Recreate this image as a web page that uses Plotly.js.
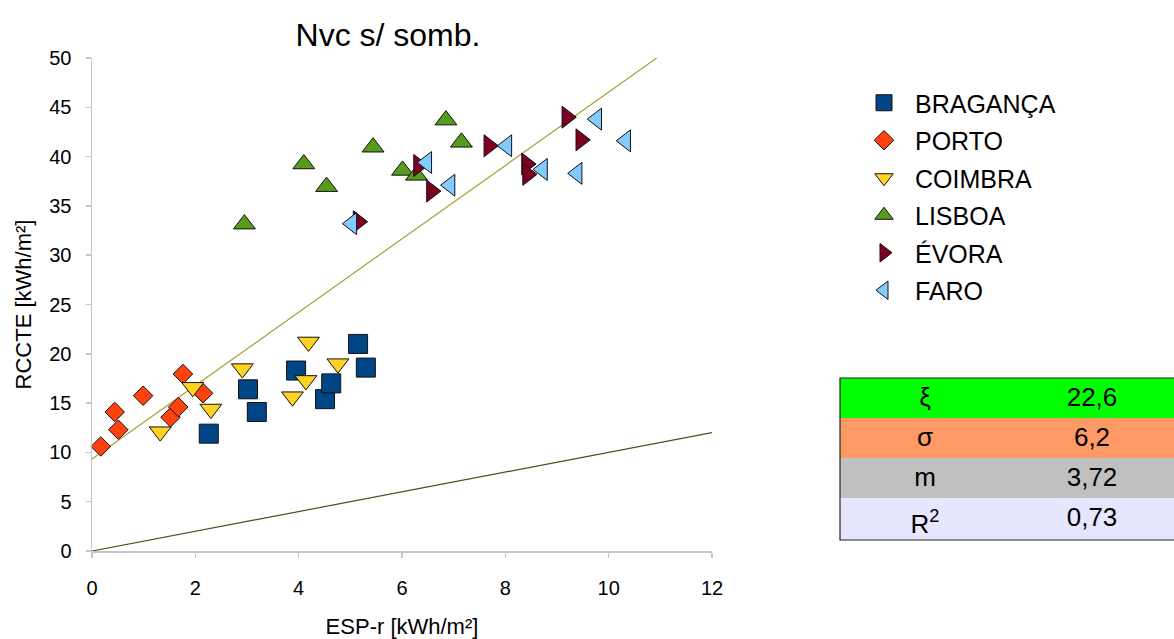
<!DOCTYPE html>
<html>
<head>
<meta charset="utf-8">
<script src="https://cdn.plot.ly/plotly-3.0.1.min.js"></script>
<style>html,body{margin:0;padding:0;background:#fff;}#chart{width:1174px;height:639px;}</style>
</head>
<body>
<div id="chart"></div>
<script>
// ---- data ----
const seriesNames = ["BRAGANÇA", "PORTO", "COIMBRA", "LISBOA", "ÉVORA", "FARO"];
const bragancaX = [2.26, 3.02, 3.19, 3.95, 4.51, 4.63, 5.15, 5.30];
const bragancaY = [11.9, 16.4, 14.1, 18.3, 15.4, 17.0, 21.0, 18.6];
const portoX = [0.17, 0.51, 0.44, 0.99, 1.52, 1.67, 1.76, 2.15];
const portoY = [10.6, 12.3, 14.1, 15.75, 13.56, 14.6, 17.95, 16.0];
const coimbraX = [1.32, 1.95, 2.30, 2.91, 3.88, 4.14, 4.19, 4.76];
const coimbraY = [12.1, 16.6, 14.4, 18.5, 15.65, 17.3, 21.2, 19.0];
const lisboaX = [2.95, 4.10, 4.54, 5.44, 6.01, 6.28, 6.85, 7.15];
const lisboaY = [33.15, 39.25, 36.95, 40.95, 38.6, 38.1, 43.7, 41.45];
const evoraX = [5.15, 6.32, 6.57, 7.68, 8.41, 8.43, 9.19, 9.46];
const evoraY = [33.4, 39.1, 36.5, 41.1, 39.25, 38.2, 44.0, 41.7];
const faroX = [5.03, 6.48, 6.93, 8.03, 8.72, 9.39, 9.77, 10.33];
const faroY = [33.2, 39.4, 37.1, 41.1, 38.7, 38.3, 43.8, 41.6];

// regression line and identity line
const trendX = [0, 10.93];
const trendY = [9.34, 50];
const identityX = [0, 12];
const identityY = [0, 12];

// stats table
const statLabels = ["ξ", "σ", "m", "R<sup>2</sup>"];
const statValues = ["22,6", "6,2", "3,72", "0,73"];
const statColors = ["#00ff00", "#ff9966", "#c0c0c0", "#e6e6ff"];

const xTicks = [0, 2, 4, 6, 8, 10, 12];
const yTicks = [0, 5, 10, 15, 20, 25, 30, 35, 40, 45, 50];

// ---- styling ----
const colors = ["#004586", "#ff420e", "#ffd320", "#579d1c", "#7e0021", "#83caff"];
const symbols = ["square", "diamond", "triangle-down", "triangle-up", "triangle-right", "triangle-left"];
const sizes = [19, 15, 19, 19, 19, 19];
const xs = [bragancaX, portoX, coimbraX, lisboaX, evoraX, faroX];
const ys = [bragancaY, portoY, coimbraY, lisboaY, evoraY, faroY];

const FONT = "Liberation Sans, Arial, sans-serif";

const traces = [];
traces.push({x: identityX, y: identityY, mode: "lines", type: "scatter",
  line: {color: "#4d4d1f", width: 1.2}, showlegend: false, hoverinfo: "skip"});
traces.push({x: trendX, y: trendY, mode: "lines", type: "scatter",
  line: {color: "#a3a332", width: 1.2}, showlegend: false, hoverinfo: "skip"});
for (let i = 0; i < seriesNames.length; i++) {
  traces.push({
    x: xs[i], y: ys[i], name: seriesNames[i], type: "scatter", mode: "markers",
    legendgroup: "g" + i, cliponaxis: false,
    marker: {symbol: symbols[i], color: colors[i], size: sizes[i], line: {color: "#111", width: 1}}
  });
}

traces.push({
  type: "table",
  domain: {x: [840/1174, 1], y: [(639-540)/639, (639-378)/639]},
  columnwidth: [170, 164],
  header: {
    values: [[statLabels[0]], [statValues[0]]],
    align: "center", height: 40,
    fill: {color: statColors[0]},
    line: {color: statColors[0], width: 0},
    font: {family: FONT, size: 26, color: "#000"}
  },
  cells: {
    values: [statLabels.slice(1), statValues.slice(1)],
    align: "center", height: 40,
    fill: {color: [statColors.slice(1), statColors.slice(1)]},
    line: {color: [statColors.slice(1), statColors.slice(1)], width: 0},
    font: {family: FONT, size: 26, color: "#000"}
  }
});

const axisCommon = {
  showgrid: false, zeroline: false, showline: true, linecolor: "#c6c6c6", linewidth: 1.5,
  ticks: "outside", ticklen: 5, tickcolor: "#c6c6c6", tickwidth: 1.5,
  tickfont: {family: FONT, size: 20, color: "#000"}, automargin: false, fixedrange: true
};

const layout = {
  width: 1174, height: 639,
  margin: {l: 0, r: 0, t: 0, b: 0},
  paper_bgcolor: "#fff", plot_bgcolor: "#fff",
  font: {family: FONT, color: "#000"},
  title: {text: "Nvc s/ somb.", font: {family: FONT, size: 32, color: "#000"},
    x: 388/1174, xanchor: "center", y: (639-35)/639, yanchor: "middle"},
  xaxis: Object.assign({}, axisCommon, {
    domain: [92/1174, 712/1174], range: [0, 12], tickvals: xTicks, ticktext: xTicks.map(String),
    ticklabelstandoff: 13,
    title: {text: "ESP-r [kWh/m²]", font: {family: FONT, size: 22, color: "#000"}, standoff: 22}
  }),
  yaxis: Object.assign({}, axisCommon, {
    domain: [(639-551)/639, (639-58)/639], range: [0, 50], tickvals: yTicks, ticktext: yTicks.map(String),
    ticklabelstandoff: 10,
    title: {text: "RCCTE [kWh/m²]", font: {family: FONT, size: 22, color: "#000"}, standoff: 11}
  }),
  showlegend: true,
  legend: {
    x: 853/1174, xanchor: "left", y: (639-80)/639, yanchor: "top",
    traceorder: "grouped", tracegroupgap: 2, itemwidth: 52,
    font: {family: FONT, size: 25, color: "#000"},
    bgcolor: "rgba(0,0,0,0)", borderwidth: 0
  },
  shapes: [{
    type: "rect", xref: "paper", yref: "paper",
    x0: 840/1174, x1: 1.01, y0: (639-540)/639, y1: (639-378)/639,
    line: {color: "#222", width: 1.2}, fillcolor: "rgba(0,0,0,0)", layer: "above"
  }]
};

Plotly.newPlot("chart", traces, layout, {staticPlot: true, displayModeBar: false});
</script>
</body>
</html>
